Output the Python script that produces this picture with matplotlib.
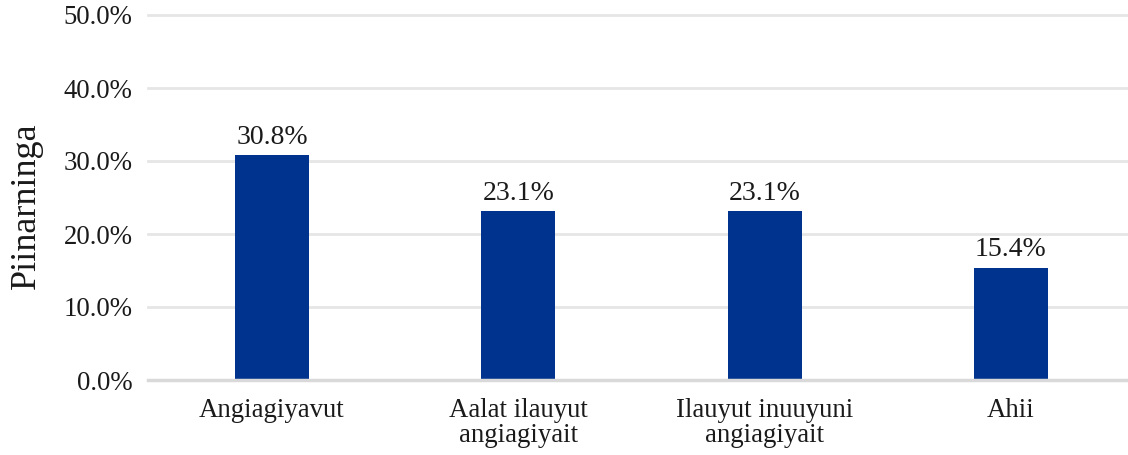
import matplotlib
matplotlib.use("Agg")
import matplotlib.pyplot as plt
from matplotlib.ticker import FuncFormatter

plt.rcParams.update({
    "font.family": "serif",
    "font.serif": ["Liberation Serif", "DejaVu Serif"],
})

categories = ["Angiagiyavut", "Aalat ilauyut\nangiagiyait",
              "Ilauyut inuuyuni\nangiagiyait", "Ahii"]
values = [30.8, 23.1, 23.1, 15.4]
yticks = [0, 10, 20, 30, 40, 50]

BAR = "#00338D"
GRID = "#e6e6e6"

fig = plt.figure(figsize=(11.28, 4.55), dpi=100)
ax = fig.add_axes([148 / 1128, 1 - 380 / 455, 1 - 148 / 1128, (380 - 15) / 455])

x = list(range(len(categories)))
ax.bar(x, values, width=0.3, color=BAR, zorder=3)
for xi, v in zip(x, values):
    ax.annotate(f"{v:.1f}%", (xi, v), textcoords="offset points", xytext=(0, 4),
                ha="center", va="bottom", fontsize=20, color="#1a1a1a")

ax.set_xlim(-0.503, 3.475)
ax.set_ylim(0, 50)
ax.set_yticks(yticks)
ax.yaxis.set_major_formatter(FuncFormatter(lambda v, p: f"{v:.1f}%"))
ax.set_xticks(x)
ax.set_xticklabels(categories, linespacing=1.0)
ax.tick_params(axis="both", length=0, labelsize=19.3, colors="#1a1a1a")
ax.tick_params(axis="x", pad=13)
ax.tick_params(axis="y", pad=11)

for t in yticks[1:]:
    ax.axhline(t, color=GRID, lw=2, zorder=1, clip_on=False)

for s in ("top", "right", "left"):
    ax.spines[s].set_visible(False)
ax.spines["bottom"].set_color("#d9d9d9")
ax.spines["bottom"].set_linewidth(2.5)
ax.spines["bottom"].set_zorder(4)

ax.set_ylabel("Piinarninga", fontsize=26, color="#1a1a1a")
ax.yaxis.set_label_coords(-0.107, 0.478)

fig.savefig("out.png", dpi=100)
